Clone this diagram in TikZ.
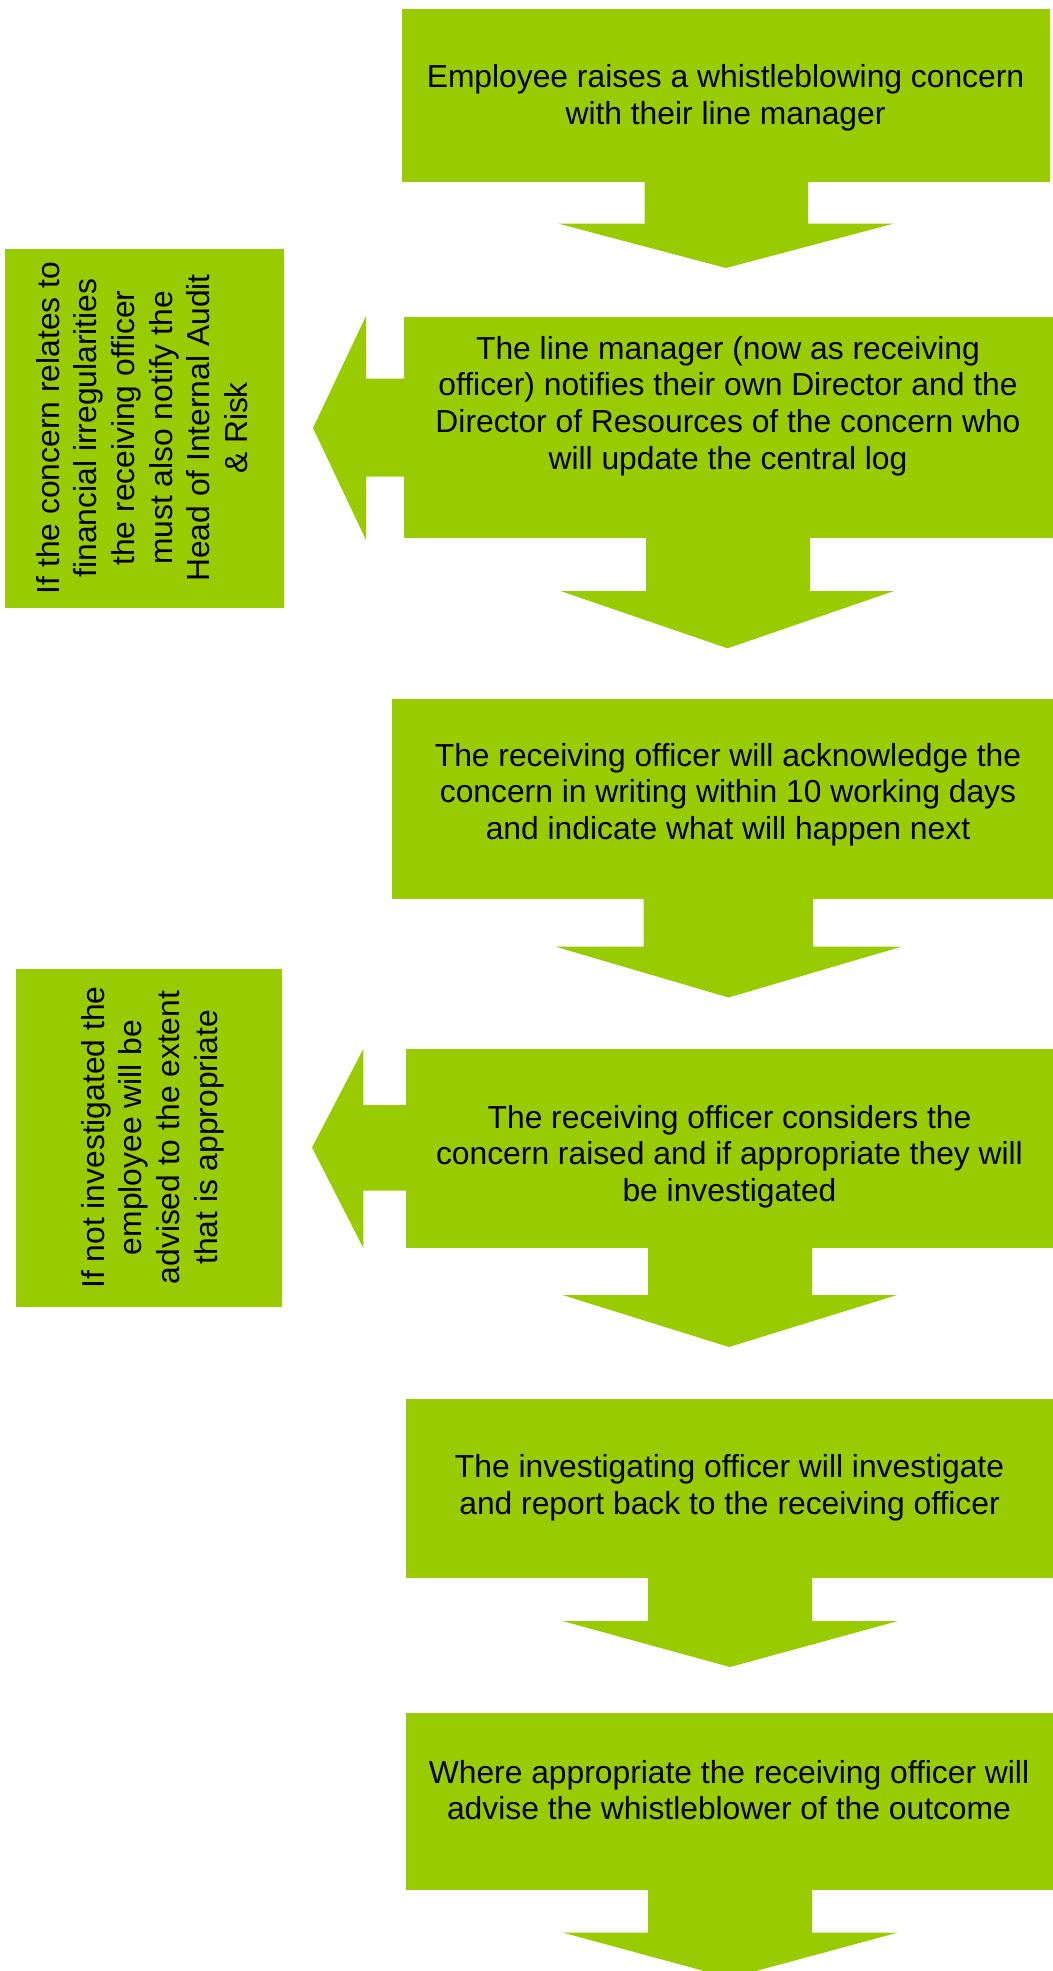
\documentclass[tikz,border=0pt]{standalone}
\usepackage{fontspec}
\setmainfont{Liberation Sans}
\usetikzlibrary{fit}
\definecolor{gr}{HTML}{99CC00}
\begin{document}
\begin{tikzpicture}[x=0.75pt,y=-0.75pt,
  gbox/.style={fill=gr, draw=none, inner sep=0pt, outer sep=0pt},
  blk/.style={fill=gr, draw=none},
  txt/.style={align=center, font=\fontsize{23.85}{27.5}\selectfont, inner sep=0pt, text=black},
  vtxt/.style={align=center, font=\fontsize{23.85}{28.3}\selectfont, inner sep=0pt, text=black, rotate=90}]
\useasboundingbox (0,0) rectangle (1053,1971);
\clip (0,0) rectangle (1053,1971);
% main boxes
\node[gbox, fit={(402,9) (1050,182)}] (b1) {};
\node[gbox, fit={(404,317) (1053,538)}] (b2) {};
\node[gbox, fit={(392,699) (1053,899)}] (b3) {};
\node[gbox, fit={(406,1049) (1053,1248)}] (b4) {};
\node[gbox, fit={(406,1399) (1053,1578)}] (b5) {};
\node[gbox, fit={(406,1713) (1053,1890)}] (b6) {};
% side boxes
\node[gbox, fit={(5,249) (284,608)}] (l1) {};
\node[gbox, fit={(16,969) (282,1307)}] (l2) {};
% down block arrows
\fill[blk] (644.5,182) -- (808,182) -- (808,223.5) -- (894,223.5) -- (726,268) -- (558,223.5) -- (644.5,223.5) -- cycle;
\fill[blk] (646,538) -- (810,538) -- (810,591) -- (894,591) -- (727.5,648.3) -- (560.5,591) -- (646,591) -- cycle;
\fill[blk] (643.5,899) -- (813,899) -- (813,946.5) -- (902,946.5) -- (728.5,997.5) -- (555,946.5) -- (643.5,946.5) -- cycle;
\fill[blk] (648,1248) -- (812,1248) -- (812,1295) -- (897,1295) -- (729,1347) -- (562.5,1295) -- (648,1295) -- cycle;
\fill[blk] (648,1578) -- (812,1578) -- (812,1621) -- (898,1621) -- (730,1667) -- (562.5,1621) -- (648,1621) -- cycle;
\fill[blk] (648,1890) -- (812,1890) -- (812,1932.5) -- (898,1932.5) -- (730,1978) -- (562.5,1932.5) -- (648,1932.5) -- cycle;
% left block arrows
\fill[blk] (404,378.5) -- (366,378.5) -- (366,316) -- (313,428) -- (366,540) -- (366,476.5) -- (404,476.5) -- cycle;
\fill[blk] (406,1105) -- (363.3,1105) -- (363.3,1049) -- (312,1147.5) -- (363.3,1248) -- (363.3,1190.5) -- (406,1190.5) -- cycle;
% texts
\node[txt] (t1) at (725.5,98) {Employee raises a whistleblowing concern\\with their line manager};
\node[txt] (t2) at (728,406) {The line manager (now as receiving\\officer) notifies their own Director and the\\Director of Resources of the concern who\\will update the central log};
\node[txt] (t3) at (728,794.5) {The receiving officer will acknowledge the\\concern in writing within 10 working days\\and indicate what will happen next};
\node[txt] (t4) at (729.5,1156.5) {The receiving officer considers the\\concern raised and if appropriate they will\\be investigated};
\node[txt] (t5) at (729.5,1488) {The investigating officer will investigate\\and report back to the receiving officer};
\node[txt] (t6) at (729,1790) {Where appropriate the receiving officer will\\advise the whistleblower of the outcome};
\node[vtxt] (s1) at (142,428) {If the concern relates to\\financial irregularities\\the receiving officer\\must also notify the\\Head of Internal Audit\\\& Risk};
\node[vtxt] (s2) at (152.5,1137.5) {If not investigated the\\employee will be\\advised to the extent\\that is appropriate};
\end{tikzpicture}
\end{document}
